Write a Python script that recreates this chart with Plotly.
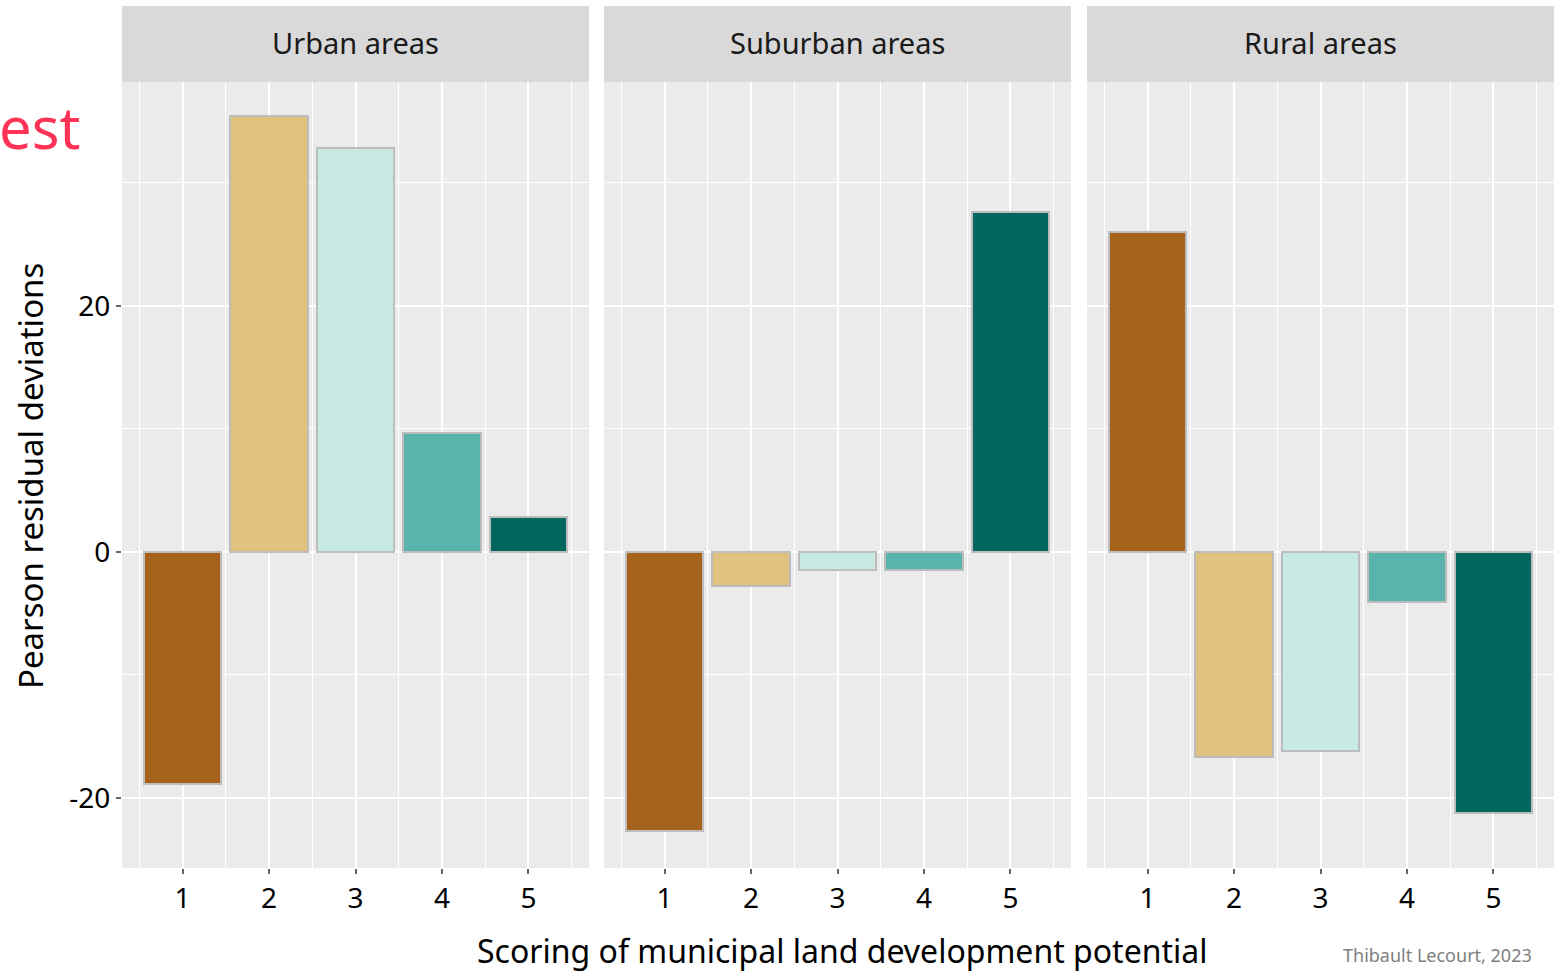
import plotly.graph_objects as go

scores = [1, 2, 3, 4, 5]
panels = ["Urban areas", "Suburban areas", "Rural areas"]
urban = [-18.9, 35.4, 32.8, 9.7, 2.85]
suburban = [-22.7, -2.8, -1.5, -1.5, 27.6]
rural = [26.0, -16.7, -16.2, -4.1, -21.2]
colors = ["#A6611A", "#DFC27D", "#C7EAE5", "#5AB4AC", "#01665E"]
y_ticks = [-20, 0, 20]
y_ticklabels = ["-20", "0", "20"]

series = [urban, suburban, rural]
W, H = 1560, 973
ml, mr, mt, mb = 122, 6, 6, 105
pw = W - ml - mr
ph = H - mt - mb
def px_x(px):
    return (px - ml) / pw
def px_y(py):
    return (H - mb - py) / ph

domains = [(px_x(122), px_x(589)), (px_x(604), px_x(1071)), (px_x(1087), px_x(1554))]
ytop = px_y(82)

fig = go.Figure()
FONT = "Noto Sans"
for i, (name, vals) in enumerate(zip(panels, series)):
    xa = "x" if i == 0 else f"x{i+1}"
    ya = "y" if i == 0 else f"y{i+1}"
    fig.add_trace(go.Bar(x=scores, y=vals, width=0.9, xaxis=xa, yaxis=ya,
                         marker=dict(color=colors, line=dict(color="#BDBDBD", width=2)),
                         showlegend=False, hoverinfo="x+y"))
    axk = "xaxis" if i == 0 else f"xaxis{i+1}"
    ayk = "yaxis" if i == 0 else f"yaxis{i+1}"
    fig.layout[axk] = dict(domain=list(domains[i]), range=[0.3, 5.7], tickvals=scores,
                           ticktext=[str(s) for s in scores],
                           showgrid=True, gridcolor="white", gridwidth=2,
                           minor=dict(tickvals=[0.5, 1.5, 2.5, 3.5, 4.5, 5.5], showgrid=True,
                                      gridcolor="white", gridwidth=1),
                           ticks="outside", ticklen=5, tickwidth=2, tickcolor="#666666",
                           tickfont=dict(size=28, color="black", family=FONT),
                           zeroline=False, showline=False, anchor=ya)
    fig.layout[ayk] = dict(domain=[0, ytop], range=[-25.7, 38.2], tickvals=y_ticks,
                           ticktext=y_ticklabels,
                           showgrid=True, gridcolor="white", gridwidth=2,
                           minor=dict(tickvals=[-10, 10, 30], showgrid=True,
                                      gridcolor="white", gridwidth=1),
                           ticks="outside" if i == 0 else "", ticklen=5, tickwidth=2,
                           tickcolor="#666666",
                           showticklabels=(i == 0),
                           tickfont=dict(size=28, color="black", family=FONT),
                           zeroline=False, showline=False, anchor=xa)
    if i > 0:
        fig.layout[ayk].matches = "y"
    fig.add_shape(type="rect", xref="paper", yref="paper", x0=domains[i][0], x1=domains[i][1],
                  y0=0, y1=ytop, fillcolor="#EBEBEB", line=dict(width=0), layer="below")
    fig.add_shape(type="rect", xref="paper", yref="paper", x0=domains[i][0], x1=domains[i][1],
                  y0=ytop, y1=px_y(6), fillcolor="#D9D9D9", line=dict(width=0))
    fig.add_annotation(text=name, xref="paper", yref="paper",
                       x=(domains[i][0] + domains[i][1]) / 2, y=px_y(42),
                       showarrow=False, font=dict(size=29, color="#1A1A1A", family=FONT),
                       xanchor="center", yanchor="middle")

fig.add_annotation(text="Pearson residual deviations", xref="paper", yref="paper",
                   x=px_x(31), y=px_y(476), textangle=-90, showarrow=False,
                   font=dict(size=33, color="black", family=FONT), xanchor="center", yanchor="middle")
fig.add_annotation(text="Scoring of municipal land development potential", xref="paper", yref="paper",
                   x=px_x(842), y=px_y(950), showarrow=False,
                   font=dict(size=32, color="black", family=FONT), xanchor="center", yanchor="middle")
fig.add_annotation(text="Thibault Lecourt, 2023", xref="paper", yref="paper",
                   x=px_x(1534), y=px_y(955), showarrow=False,
                   font=dict(size=18, color="#808080", family=FONT), xanchor="right", yanchor="middle")
fig.add_annotation(text="est", xref="paper", yref="paper",
                   x=px_x(-3), y=px_y(126), showarrow=False,
                   font=dict(size=58, color="#FF3355", family=FONT), xanchor="left", yanchor="middle")

fig.update_layout(width=W, height=H, margin=dict(l=ml, r=mr, t=mt, b=mb),
                  plot_bgcolor="rgba(0,0,0,0)", paper_bgcolor="white",
                  font=dict(family=FONT), bargap=0)
fig.write_html("out.html", config={"displayModeBar": False},
               post_script="document.body.style.margin='0';document.body.style.padding='0';")
